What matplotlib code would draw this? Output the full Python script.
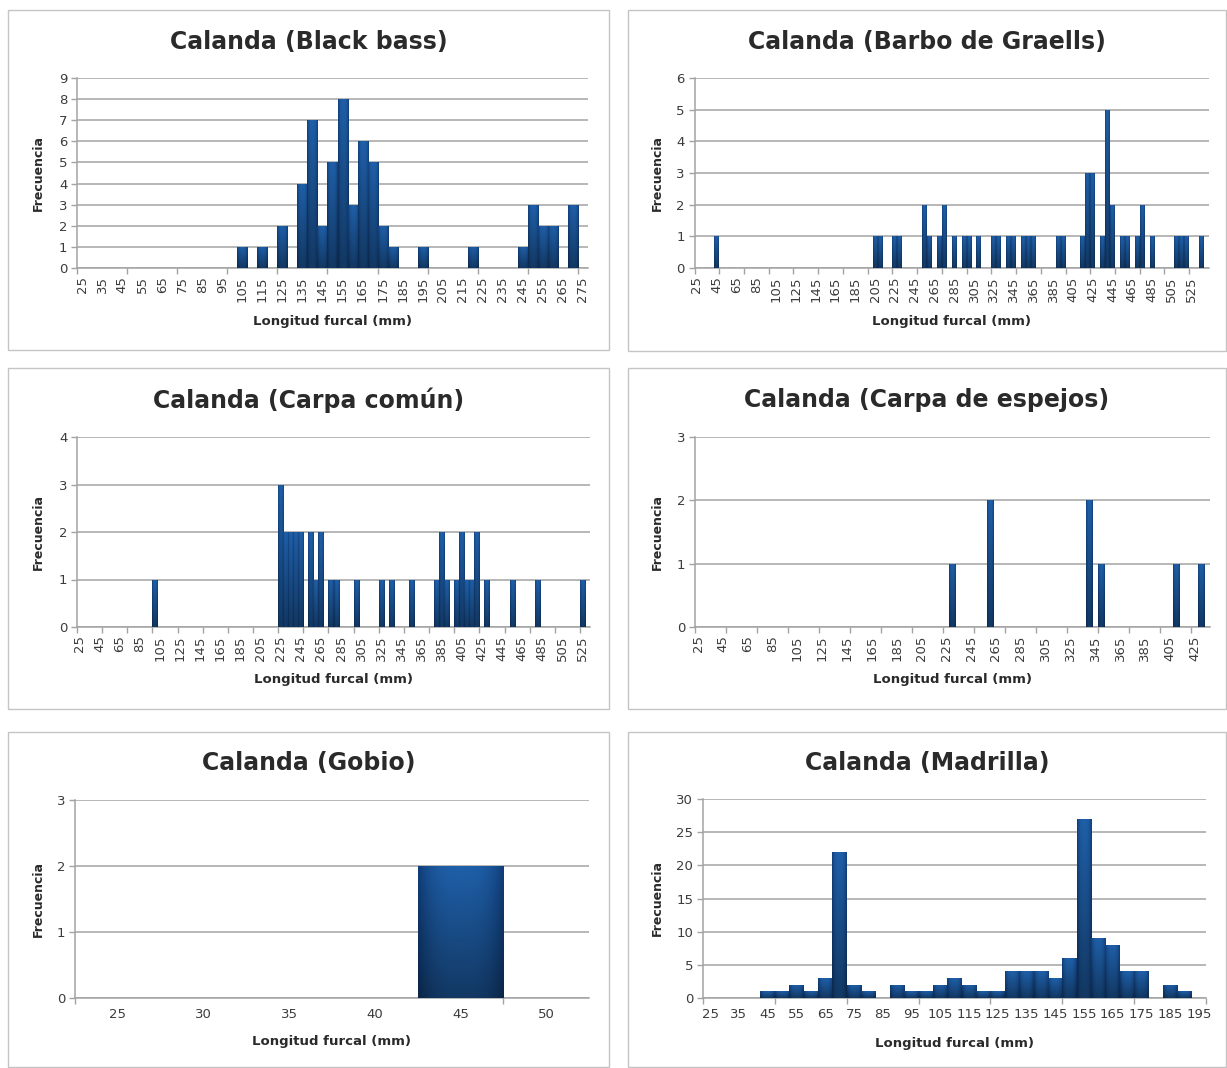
import numpy as np
import matplotlib
matplotlib.use("Agg")
import matplotlib.pyplot as plt
from matplotlib.patches import Rectangle

plt.rcParams['font.family'] = ['DejaVu Sans']

FIG_W, FIG_H, DPI = 1227, 1068, 100

# ---------------------------------------------------------------------------
# Fork-length frequency data, Calanda reservoir (5 mm classes)
# classes: (first class mark, last class mark, class width) in mm
# ---------------------------------------------------------------------------
bass_classes = (25, 275, 5)
bass_lengths = [105, 115, 125, 135, 140, 145, 150, 155, 160, 165, 170, 175, 180,
                195, 220, 245, 250, 255, 260, 270]
bass_counts = [1, 1, 2, 4, 7, 2, 5, 8, 3, 6, 5, 2, 1, 1, 1, 1, 3, 2, 2, 3]

barbo_classes = (25, 540, 5)
barbo_lengths = [45, 205, 210, 225, 230, 255, 260, 270, 275, 285, 295, 300, 310,
                 325, 330, 340, 345, 355, 360, 365, 390, 395, 415, 420, 425, 435,
                 440, 445, 455, 460, 470, 475, 485, 510, 515, 520, 535]
barbo_counts = [1, 1, 1, 1, 1, 2, 1, 1, 2, 1, 1, 1, 1, 1, 1, 1, 1, 1, 1, 1, 1, 1,
                1, 3, 3, 1, 5, 2, 1, 1, 1, 2, 1, 1, 1, 1, 1]

carpa_classes = (25, 530, 5)
carpa_lengths = [100, 225, 230, 235, 240, 245, 255, 260, 265, 275, 280, 300, 325,
                 335, 355, 380, 385, 390, 400, 405, 410, 415, 420, 430, 455, 480, 525]
carpa_counts = [1, 3, 2, 2, 2, 2, 2, 1, 2, 1, 1, 1, 1, 1, 1, 1, 2, 1, 1, 2, 1, 1,
                2, 1, 1, 1, 1]

espejos_classes = (25, 435, 5)
espejos_lengths = [230, 260, 340, 350, 410, 430]
espejos_counts = [1, 2, 2, 1, 1, 1]

gobio_classes = (25, 50, 5)
gobio_lengths = [45]
gobio_counts = [2]

madrilla_classes = (25, 195, 5)
madrilla_lengths = [45, 50, 55, 60, 65, 70, 75, 80, 90, 95, 100, 105, 110, 115, 120,
                    125, 130, 135, 140, 145, 150, 155, 160, 165, 170, 175, 185, 190]
madrilla_counts = [1, 1, 2, 1, 3, 22, 2, 1, 2, 1, 1, 2, 3, 2, 1, 1, 4, 4, 4, 3, 6,
                   27, 9, 8, 4, 4, 2, 1]

titles = ["Calanda (Black bass)", "Calanda (Barbo de Graells)",
          "Calanda (Carpa común)", "Calanda (Carpa de espejos)",
          "Calanda (Gobio)", "Calanda (Madrilla)"]
x_title = "Longitud furcal (mm)"
y_title = "Frecuencia"

GRID = "#a3a3a3"
FRAME = "#c4c4c4"
TEXT = "#2a2a2a"
TICKTXT = "#3c3c3c"


def class_table(classes, lengths, counts):
    first, last, step = classes
    marks = list(range(first, last + 1, step))
    freq = [0] * len(marks)
    for L, c in zip(lengths, counts):
        freq[marks.index(L)] = c
    return marks, freq


def bar_gradient(nx=40, ny=80):
    # lighter top fading to dark navy at the base, slightly darker sides
    u = np.linspace(0, 1, nx)
    v = np.linspace(0, 1, ny)[:, None]
    across = 1 - np.abs(2 * u - 1) ** 3
    edge = np.array([0.06, 0.22, 0.43])
    centre = np.array([0.11, 0.34, 0.60])
    base = edge + (centre - edge) * across[:, None]
    shade = 1.10 - 0.45 * v
    return np.clip(base[None, :, :] * shade[:, :, None], 0, 1)


GRAD = bar_gradient()


def px_rect(x0, y0, x1, y1):
    return [x0 / FIG_W, 1 - y1 / FIG_H, (x1 - x0) / FIG_W, (y1 - y0) / FIG_H]


layout = [
    dict(box=(8, 10, 609, 350), ax=(77, 78, 588, 268), title_y=42, ylab_x=38, xlab_y=321,
         data=(bass_classes, bass_lengths, bass_counts), ymax=9, ystep=1, every=2, rot=90),
    dict(box=(628, 10, 1226, 351), ax=(694.5, 78, 1209, 268), title_y=42, ylab_x=657, xlab_y=321,
         data=(barbo_classes, barbo_lengths, barbo_counts), ymax=6, ystep=1, every=4, rot=90),
    dict(box=(8, 368, 609, 709), ax=(77, 437, 590, 627), title_y=400, ylab_x=38, xlab_y=680,
         data=(carpa_classes, carpa_lengths, carpa_counts), ymax=4, ystep=1, every=4, rot=90),
    dict(box=(628, 368, 1226, 709), ax=(695, 437, 1210, 627), title_y=400, ylab_x=657, xlab_y=680,
         data=(espejos_classes, espejos_lengths, espejos_counts), ymax=3, ystep=1, every=4, rot=90),
    dict(box=(8, 732, 609, 1067), ax=(75, 800, 589, 998), title_y=763, ylab_x=38, xlab_y=1042,
         data=(gobio_classes, gobio_lengths, gobio_counts), ymax=3, ystep=1, every=1, rot=0),
    dict(box=(628, 732, 1226, 1067), ax=(703, 799, 1206, 998), title_y=763, ylab_x=657, xlab_y=1043,
         data=(madrilla_classes, madrilla_lengths, madrilla_counts), ymax=30, ystep=5, every=2, rot=0),
]

fig = plt.figure(figsize=(FIG_W / DPI, FIG_H / DPI), dpi=DPI)
fig.patch.set_facecolor("white")

for title, cfg in zip(titles, layout):
    bx0, by0, bx1, by1 = cfg["box"]
    fig.patches.append(Rectangle((bx0 / FIG_W, 1 - by1 / FIG_H),
                                 (bx1 - bx0) / FIG_W, (by1 - by0) / FIG_H,
                                 transform=fig.transFigure, fill=False,
                                 edgecolor=FRAME, linewidth=1.0, zorder=0))
    fig.text((bx0 + bx1) / 2 / FIG_W, 1 - cfg["title_y"] / FIG_H, title,
             ha="center", va="center", fontsize=17, fontweight="bold", color=TEXT)

    ax0, ay0, ax1, ay1 = cfg["ax"]
    ax = fig.add_axes(px_rect(ax0, ay0, ax1, ay1))
    marks, freq = class_table(*cfg["data"])
    n = len(marks)
    pos = np.arange(n)

    bars = ax.bar(pos, freq, width=1.0, color="#123f73", linewidth=0, zorder=3)
    for b in bars:
        h = b.get_height()
        if h <= 0:
            continue
        x0 = b.get_x()
        im = ax.imshow(GRAD, extent=(x0, x0 + b.get_width(), 0, h), aspect="auto",
                       interpolation="bilinear", zorder=3.5)
        im.set_clip_path(b)

    ax.set_xlim(-0.5, n - 0.5)
    ax.set_ylim(0, cfg["ymax"])
    ax.set_aspect("auto")

    # y axis
    ax.set_yticks(np.arange(0, cfg["ymax"] + 0.1, cfg["ystep"]))
    ax.yaxis.grid(True, color=GRID, linewidth=1.1, zorder=0)
    ax.set_axisbelow(True)
    ax.tick_params(axis="y", length=4, width=1.0, color=GRID, pad=3,
                   labelsize=9.5, labelcolor=TICKTXT)

    # x axis: labels on every n-th class, tick marks every 5 classes
    lab_idx = pos[::cfg["every"]]
    ax.set_xticks(lab_idx)
    ax.set_xticklabels([str(marks[i]) for i in lab_idx], rotation=cfg["rot"])
    ax.set_xticks(np.arange(-0.5, n, 5), minor=True)
    ax.tick_params(axis="x", which="major", length=0, pad=6 if cfg["rot"] else 7,
                   labelsize=9.5, labelcolor=TICKTXT)
    ax.tick_params(axis="x", which="minor", length=4, width=1.0, color=GRID)

    for side in ("top", "right"):
        ax.spines[side].set_visible(False)
    for side in ("left", "bottom"):
        ax.spines[side].set_color(GRID)
        ax.spines[side].set_linewidth(1.1)

    ax.set_xlabel(x_title, fontsize=9.5, fontweight="bold", color=TEXT)
    ax.set_ylabel(y_title, fontsize=9, fontweight="bold", color=TEXT)
    ax.xaxis.set_label_coords(0.5, (ay1 - cfg["xlab_y"]) / (ay1 - ay0))
    ax.yaxis.set_label_coords((cfg["ylab_x"] - ax0) / (ax1 - ax0), 0.5)
    ax.xaxis.label.set_va("center")
    ax.yaxis.label.set_va("center")

fig.savefig("out.png", dpi=DPI, facecolor="white")
